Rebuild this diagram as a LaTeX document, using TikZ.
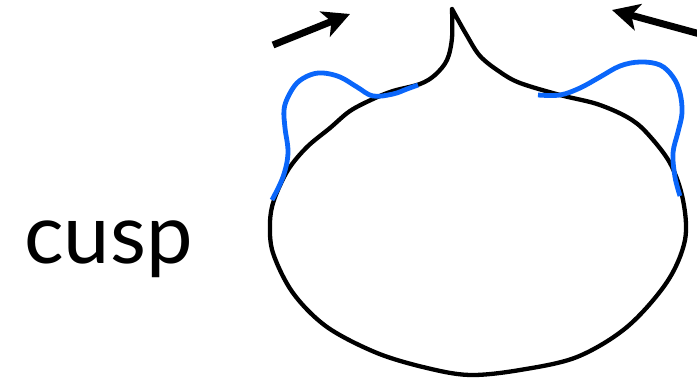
\documentclass[tikz,border=0pt]{standalone}
\usepackage{fontspec}
\setmainfont{Lato}
\usetikzlibrary{arrows.meta}
\definecolor{cuspblue}{RGB}{10,102,250}
\tikzset{
  outline/.style={line width=4.3pt, black, line join=round, line cap=round},
  bluepart/.style={line width=4.8pt, cuspblue, line cap=butt},
  motion/.style={line width=7pt, black, -{Stealth[length=27pt, width=27pt, inset=7pt]}},
  label/.style={font=\fontsize{83}{83}\selectfont, inner sep=0pt, anchor=base west}
}
\begin{document}
\begin{tikzpicture}[x=1pt,y=-1pt]
\useasboundingbox (0,0) rectangle (697,379);
% black curve with cusp
\draw[outline] plot[smooth, tension=0.55] coordinates {
 (452,9) (466,34) (480,56) (500,72) (520,83) (560,95) (597,104) (627,117) (646,132)
 (670,163) (683,200) (685,240) (667,282) (627,327) (577,357) (520,370) (470,375)
 (427,368) (377,353) (327,327) (293,293) (273,253) (270,223) (274,200) (288,170)
 (307,147) (330,128) (350,111) (373,99) (393,91) (420,84) (435,75) (447,60) (452,38) (452,9)};
% blue arcs
\draw[bluepart] plot[smooth, tension=0.6] coordinates {
 (272,200) (283,177) (288,153) (285,128) (284,110) (288,97) (297,83) (310,75) (323,73)
 (340,77) (357,87) (373,96) (393,94) (407,89) (418,85)};
\draw[bluepart] plot[smooth, tension=0.6] coordinates {
 (538,95) (560,95) (580,88) (600,77) (620,66) (640,62) (660,65) (673,77) (680,93)
 (682,113) (678,132) (673,153) (675,177) (680,196)};
% arrows
\coordinate (la) at (273,45);
\coordinate (lb) at (350,14);
\coordinate (ra) at (700,34);
\coordinate (rb) at (612,10);
\draw[motion] (la) -- (lb);
\draw[motion] (ra) -- (rb);
\node[label] (cusp) at (24,264) {cusp};
\end{tikzpicture}
\end{document}
